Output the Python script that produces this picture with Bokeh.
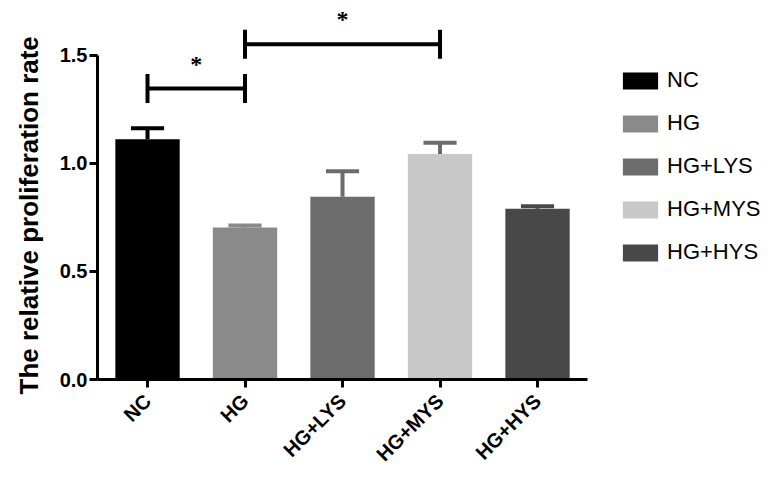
from bokeh.plotting import figure
from bokeh.models import (ColumnDataSource, FixedTicker, Legend, LegendItem,
                          Arrow, TeeHead, LabelSet, Range1d, NumeralTickFormatter, Title)
from bokeh.embed import file_html
from bokeh.resources import INLINE

# ---- data ----
categories = ["NC", "HG", "HG+LYS", "HG+MYS", "HG+HYS"]
means = [1.112, 0.703, 0.845, 1.043, 0.790]
errors = [0.051, 0.010, 0.118, 0.052, 0.012]
bar_colors = ["#000000", "#8a8a8a", "#6c6c6c", "#c8c8c8", "#484848"]
err_colors = ["#000000", "#8a8a8a", "#6c6c6c", "#6c6c6c", "#484848"]
y_ticks = [0.0, 0.5, 1.0, 1.5]
y_label = "The relative proliferation rate"

# significance brackets: (from category index, to category index, height, label)
sig_from = [0, 1]
sig_to = [1, 3]
sig_height = [1.347, 1.551]
sig_label = ["*", "*"]

FONT = "Liberation Sans"

xs = list(range(len(categories)))
src = ColumnDataSource(dict(
    x=xs, top=means, color=bar_colors, ecolor=err_colors,
    cap=[m + e for m, e in zip(means, errors)], name=categories,
))

p = figure(width=764, height=476, output_backend="svg", toolbar_location=None,
           x_range=Range1d(-0.513, 6.328), y_range=Range1d(0, 1.7536),
           min_border_left=97, min_border_right=0, min_border_top=0,
           min_border_bottom=96)
p.outline_line_color = None
p.grid.grid_line_color = None
p.background_fill_color = "white"

bars = p.vbar(x="x", top="top", width=0.66, bottom=0, fill_color="color",
              line_color=None, source=src)
p.segment(x0="x", y0="top", x1="x", y1="cap", line_color="ecolor",
          line_width=4, source=src)
p.rect(x="x", y="cap", width=0.34, height=4, height_units="screen",
       fill_color="ecolor", line_color=None, source=src)

# axes
p.xaxis.ticker = FixedTicker(ticks=xs)
p.xaxis.major_label_overrides = {i: c for i, c in enumerate(categories)}
p.xaxis.major_label_orientation = 0.785398
p.xaxis.minor_tick_line_color = None
p.xaxis.bounds = (-0.513, 4.513)
p.yaxis.ticker = FixedTicker(ticks=y_ticks)
p.yaxis.minor_tick_line_color = None
p.yaxis.formatter = NumeralTickFormatter(format="0.0")
p.yaxis.bounds = (0, 1.5)
for ax in (p.xaxis, p.yaxis):
    ax.axis_line_width = 3
    ax.axis_line_color = "black"
    ax.major_tick_line_width = 3
    ax.major_tick_line_color = "black"
    ax.major_tick_out = 8
    ax.major_tick_in = 0
    ax.major_label_text_font = FONT
    ax.major_label_text_font_style = "bold"
    ax.major_label_text_color = "black"
p.yaxis.major_label_text_font_size = "20px"
p.xaxis.major_label_text_font_size = "20px"
p.yaxis.major_label_standoff = 2
p.xaxis.major_label_standoff = 10

# y-axis title (placed along the 0-1.5 axis span)
p.add_layout(Title(text=y_label, align="left", offset=-15, standoff=24,
                   vertical_align="middle",
                   text_font=FONT, text_font_style="bold", text_font_size="26px",
                   text_line_height=1.0, text_color="black"), "left")

# significance brackets
sig_src = ColumnDataSource(dict(
    x0=sig_from, x1=sig_to, y=sig_height, label=sig_label,
    xm=[(a + b) / 2 for a, b in zip(sig_from, sig_to)],
    ys=[h + 0.115 for h in sig_height],
))
p.add_layout(Arrow(source=sig_src, x_start="x0", y_start="y", x_end="x1", y_end="y",
                   line_width=4, line_color="black",
                   start=TeeHead(size=29, line_width=4, line_color="black"),
                   end=TeeHead(size=29, line_width=4, line_color="black")))
p.add_layout(LabelSet(source=sig_src, x="xm", y="ys", text="label",
                      text_font=FONT, text_font_style="bold", text_font_size="24px",
                      text_align="center", text_baseline="middle", text_color="black"))

# legend
items = [LegendItem(label=c, renderers=[bars], index=i) for i, c in enumerate(categories)]
legend = Legend(items=items, location=(521, 114), orientation="vertical",
                glyph_width=44, glyph_height=21, label_standoff=5, label_height=26,
                spacing=17, padding=0, margin=0,
                border_line_color=None, background_fill_alpha=0,
                label_text_font=FONT, label_text_font_size="22px",
                label_text_color="black")
p.add_layout(legend, "center")

open("out.html", "w").write(file_html(p, INLINE))
